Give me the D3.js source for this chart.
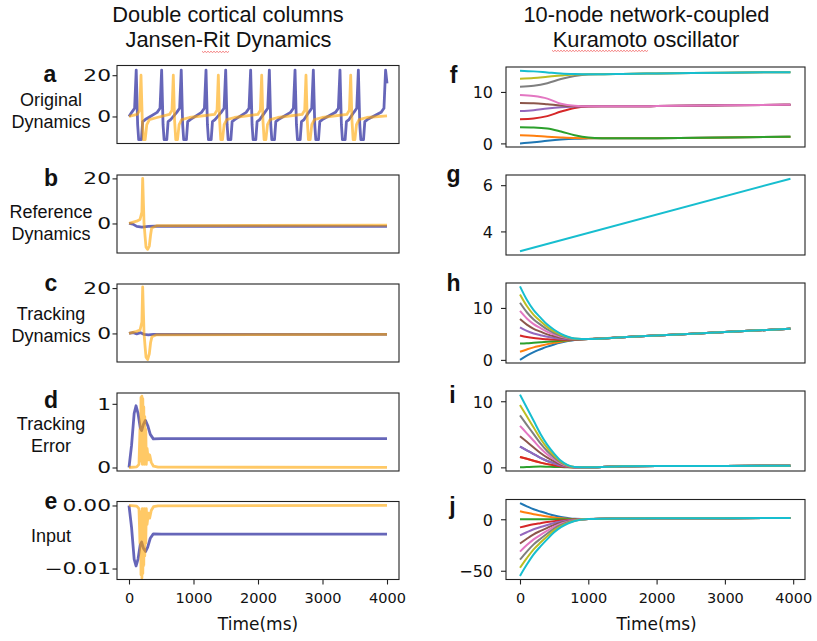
<!DOCTYPE html>
<html>
<head>
<meta charset="utf-8">
<script src="https://cdn.jsdelivr.net/npm/d3@7"></script>
<style>
  body { margin: 0; background: #fff; }
</style>
</head>
<body>
<div class="board"></div>
<script>
const W = 817, H = 641

// ---------- data ----------
const timeTicks = [0, 1000, 2000, 3000, 4000]

// Jansen-Rit, two columns, [time ms, value]
const origBlue = [
  [0, 0], [42, 2], [87, 4], [112, 22.5], [134, -4], [150, -11.2], [192, -11.2], [212, -2.5], [252, -1.5],
  [436, 2], [481, 4], [506, 22.5], [528, -4], [544, -11.2], [586, -11.2], [606, -2.5], [646, -1.5],
  [740, 2], [785, 4], [810, 22.5], [832, -4], [848, -11.2], [890, -11.2], [910, -2.5], [950, -1.5],
  [1124, 2], [1169, 4], [1194, 22.5], [1216, -4], [1232, -11.2], [1274, -11.2], [1294, -2.5], [1334, -1.5],
  [1429, 2], [1474, 4], [1499, 22.5], [1521, -4], [1537, -11.2], [1579, -11.2], [1599, -2.5], [1639, -1.5],
  [1816, 2], [1861, 4], [1886, 22.5], [1908, -4], [1924, -11.2], [1966, -11.2], [1986, -2.5], [2026, -1.5],
  [2106, 2], [2151, 4], [2176, 22.5], [2198, -4], [2214, -11.2], [2256, -11.2], [2276, -2.5], [2316, -1.5],
  [2504, 2], [2549, 4], [2574, 22.5], [2596, -4], [2612, -11.2], [2654, -11.2], [2674, -2.5], [2714, -1.5],
  [2788, 2], [2833, 4], [2858, 22.5], [2880, -4], [2896, -11.2], [2938, -11.2], [2958, -2.5], [2998, -1.5],
  [3201, 2], [3246, 4], [3271, 22.5], [3293, -4], [3309, -11.2], [3351, -11.2], [3371, -2.5], [3411, -1.5],
  [3486, 2], [3531, 4], [3556, 22.5], [3578, -4], [3594, -11.2], [3636, -11.2], [3656, -2.5], [3696, -1.5],
  [3908, 2], [3953, 4], [3978, 22.5], [4000, 16]
]
const origOrange = [
  [0, 0], [126, 1], [166, 3], [186, 20], [206, -2], [224, -11.2], [251, -11.2], [276, -4], [316, -1.5], [436, -0.5],
  [627, 1], [667, 3], [687, 20], [707, -2], [725, -11.2], [752, -11.2], [777, -4], [817, -1.5], [937, -0.5],
  [1325, 1], [1365, 3], [1385, 20], [1405, -2], [1423, -11.2], [1450, -11.2], [1475, -4], [1515, -1.5], [1635, -0.5],
  [1997, 1], [2037, 3], [2057, 20], [2077, -2], [2095, -11.2], [2122, -11.2], [2147, -4], [2187, -1.5], [2307, -0.5],
  [2684, 1], [2724, 3], [2744, 20], [2764, -2], [2782, -11.2], [2809, -11.2], [2834, -4], [2874, -1.5], [2994, -0.5],
  [3377, 1], [3417, 3], [3437, 20], [3457, -2], [3475, -11.2], [3502, -11.2], [3527, -4], [3567, -1.5], [3687, -0.5],
  [4000, 0.3]
]
const refBlue = [[0, 0], [60, -0.3], [120, -1.3], [200, -1.6], [300, -1.3], [400, -1.2], [4000, -1.3]]
const refOrange = [
  [0, 0], [119, 1], [171, 1.8], [200, 5], [212, 20], [225, 8], [233, 0], [250, -6], [264, -10.5],
  [289, -11.5], [315, -10], [335, -5], [351, -2], [429, -1], [4000, -0.7]
]
const trackBlue = [[0, 0], [60, 0.4], [120, -0.2], [180, 0.3], [230, -0.4], [300, -0.6], [380, -0.4], [4000, -0.4]]
const trackOrange = [
  [0, 0], [119, 0.9], [171, 1.5], [200, 5], [212, 20.5], [225, 8], [233, 0], [250, -6], [264, -10.5],
  [289, -11.5], [315, -9], [335, -4], [355, -1.5], [430, -0.6], [4000, -0.4]
]
const errBlue = [
  [0, 0], [40, 0.35], [80, 0.85], [109, 0.97], [140, 0.85], [175, 0.62], [196, 0.58], [225, 0.68],
  [255, 0.74], [290, 0.66], [330, 0.52], [377, 0.45], [500, 0.455], [4000, 0.455]
]
const errOrange = [
  [0, 0], [120, 0.01], [155, 0.05], [170, 0.6], [178, 0.1], [186, 1.1], [193, 0.2], [200, 1.12], [207, 0.05],
  [214, 1.08], [222, 0.1], [229, 0.95], [237, 0.05], [244, 0.8], [252, 0.08], [260, 0.6], [268, 0.05],
  [280, 0.3], [300, 0.12], [320, 0.2], [345, 0.08], [380, 0.02], [450, 0.005], [4000, 0.003]
]
const inputBlue = [
  [0, 0], [40, -0.0035], [80, -0.0085], [109, -0.0096], [140, -0.0085], [175, -0.0062], [196, -0.0058],
  [225, -0.0068], [258, -0.0073], [290, -0.0066], [330, -0.0052], [377, -0.0045], [500, -0.00455], [4000, -0.00455]
]
const inputOrange = [
  [0, 0], [120, -0.0001], [155, -0.0005], [170, -0.006], [178, -0.001], [186, -0.011], [193, -0.002],
  [200, -0.0115], [207, -0.0005], [214, -0.0108], [222, -0.001], [229, -0.0095], [237, -0.0005],
  [244, -0.008], [252, -0.0008], [260, -0.006], [268, -0.0005], [280, -0.003], [300, -0.0012],
  [320, -0.002], [345, -0.0008], [380, -0.0002], [450, -0.00005], [4000, 0]
]

// Kuramoto, 10 nodes (tab10 order)
const nodeColors = ["#1f77b4", "#ff7f0e", "#2ca02c", "#d62728", "#9467bd",
                    "#8c564b", "#e377c2", "#7f7f7f", "#bcbd22", "#17becf"]

const fTimes = [0, 200, 400, 600, 800, 1000, 1200, 1500, 2000, 3000, 3960]
const fLines = [
  [0, 0.2, 0.5, 0.75, 0.92, 0.98, 1.0, 1.0, 1.02, 1.15, 1.3],
  [1.57, 1.5, 1.3, 1.15, 1.03, 0.99, 1.0, 1.0, 1.02, 1.15, 1.3],
  [3.14, 3.1, 2.9, 2.3, 1.6, 1.15, 1.02, 1.0, 1.02, 1.15, 1.3],
  [4.71, 4.85, 5.3, 6.2, 6.9, 7.15, 7.2, 7.2, 7.25, 7.4, 7.5],
  [6.28, 6.45, 6.8, 7.05, 7.15, 7.2, 7.2, 7.2, 7.25, 7.4, 7.5],
  [7.85, 7.8, 7.6, 7.35, 7.22, 7.2, 7.2, 7.2, 7.25, 7.4, 7.5],
  [9.42, 9.2, 8.7, 7.7, 7.3, 7.2, 7.2, 7.2, 7.25, 7.4, 7.5],
  [10.99, 11.2, 11.7, 12.5, 13.1, 13.4, 13.45, 13.5, 13.6, 13.75, 13.85],
  [12.57, 12.7, 12.95, 13.2, 13.4, 13.45, 13.45, 13.5, 13.6, 13.75, 13.85],
  [14.14, 14.0, 13.8, 13.6, 13.5, 13.45, 13.45, 13.5, 13.6, 13.75, 13.85]
]

const gTimes = [0, 3960]
const gLine = [3.14, 6.28]

const hTimes = [0, 100, 200, 300, 400, 500, 600, 700, 800, 1000, 1500, 2000, 3000, 3960]
const hLines = [
  [0, 0.81, 1.51, 2.05, 2.56, 2.97, 3.32, 3.61, 3.84, 4.0, 4.35, 4.7, 5.35, 6.0],
  [1.57, 2.01, 2.41, 2.72, 3.03, 3.29, 3.51, 3.71, 3.88, 4.0, 4.35, 4.7, 5.35, 6.0],
  [3.14, 3.2, 3.3, 3.4, 3.5, 3.6, 3.7, 3.8, 3.9, 4.0, 4.35, 4.7, 5.35, 6.0],
  [4.71, 4.39, 4.19, 4.08, 3.97, 3.91, 3.89, 3.89, 3.93, 4.0, 4.35, 4.7, 5.35, 6.0],
  [6.28, 5.59, 5.09, 4.75, 4.44, 4.23, 4.08, 3.99, 3.96, 4.0, 4.35, 4.7, 5.35, 6.0],
  [7.85, 6.78, 5.98, 5.43, 4.91, 4.54, 4.27, 4.08, 3.99, 4.0, 4.35, 4.7, 5.35, 6.0],
  [9.42, 7.97, 6.88, 6.10, 5.38, 4.86, 4.45, 4.18, 4.03, 4.0, 4.35, 4.7, 5.35, 6.0],
  [10.99, 9.17, 7.77, 6.78, 5.86, 5.17, 4.64, 4.27, 4.06, 4.0, 4.35, 4.7, 5.35, 6.0],
  [12.57, 10.36, 8.67, 7.45, 6.33, 5.48, 4.83, 4.37, 4.09, 4.0, 4.35, 4.7, 5.35, 6.0],
  [14.14, 11.56, 9.57, 8.13, 6.8, 5.8, 5.02, 4.46, 4.12, 4.0, 4.35, 4.7, 5.35, 6.0]
]

const iTimes = [0, 100, 200, 300, 400, 500, 600, 700, 800, 1000, 1500, 2000, 3000, 3960]
const iLines = [
  [3.14, 2.57, 2.01, 1.44, 0.97, 0.60, 0.28, 0.09, 0.02, 0, 0.15, 0.2, 0.22, 0.25],
  [1.57, 1.29, 1.0, 0.72, 0.49, 0.30, 0.14, 0.05, 0.01, 0, 0.15, 0.2, 0.22, 0.25],
  [0, 0.05, 0.1, 0.12, 0.1, 0.07, 0.04, 0.02, 0, 0, 0.15, 0.2, 0.22, 0.25],
  [1.57, 1.29, 1.0, 0.72, 0.49, 0.30, 0.14, 0.05, 0.01, 0, 0.15, 0.2, 0.22, 0.25],
  [3.14, 2.57, 2.01, 1.44, 0.97, 0.60, 0.28, 0.09, 0.02, 0, 0.15, 0.2, 0.22, 0.25],
  [4.71, 3.86, 3.01, 2.17, 1.46, 0.89, 0.42, 0.14, 0.02, 0, 0.15, 0.2, 0.22, 0.25],
  [6.28, 5.15, 4.02, 2.89, 1.95, 1.19, 0.57, 0.19, 0.03, 0, 0.15, 0.2, 0.22, 0.25],
  [7.85, 6.44, 5.02, 3.61, 2.43, 1.49, 0.71, 0.24, 0.04, 0, 0.15, 0.2, 0.22, 0.25],
  [9.42, 7.72, 6.03, 4.33, 2.92, 1.79, 0.85, 0.28, 0.05, 0, 0.15, 0.2, 0.22, 0.25],
  [11.0, 9.02, 7.04, 5.06, 3.41, 2.09, 0.99, 0.33, 0.06, 0, 0.15, 0.2, 0.22, 0.25]
]

const jTimes = [0, 100, 200, 300, 400, 500, 600, 700, 800, 1000, 1500, 2000, 3000, 3960]
const jLines = [
  [15.7, 12.6, 9.7, 7.5, 5.5, 3.6, 2.2, 1.2, 0.5, 0.2, 0.8, 1.0, 1.1, 1.2],
  [7.85, 6.3, 4.9, 3.8, 2.7, 1.8, 1.1, 0.6, 0.3, 0.2, 0.8, 1.0, 1.1, 1.2],
  [0, 0, 0, 0.1, 0.1, 0.1, 0.1, 0.1, 0.1, 0.2, 0.8, 1.0, 1.1, 1.2],
  [-7.85, -6.3, -4.9, -3.8, -2.7, -1.8, -1.1, -0.6, -0.2, 0.2, 0.8, 1.0, 1.1, 1.2],
  [-15.7, -12.6, -9.7, -7.5, -5.5, -3.6, -2.2, -1.2, -0.5, 0.2, 0.8, 1.0, 1.1, 1.2],
  [-23.6, -18.9, -14.6, -11.3, -8.3, -5.4, -3.3, -1.8, -0.7, 0.2, 0.8, 1.0, 1.1, 1.2],
  [-31.4, -25.1, -19.5, -15.1, -11.0, -7.2, -4.4, -2.4, -0.9, 0.2, 0.8, 1.0, 1.1, 1.2],
  [-39.3, -31.4, -24.4, -18.9, -13.8, -9.0, -5.5, -2.9, -1.2, 0.2, 0.8, 1.0, 1.1, 1.2],
  [-47.1, -37.7, -29.2, -22.6, -16.5, -10.8, -6.6, -3.5, -1.4, 0.2, 0.8, 1.0, 1.1, 1.2],
  [-55, -44, -34.1, -26.4, -19.3, -12.7, -7.7, -4.1, -1.7, 0.2, 0.8, 1.0, 1.1, 1.2]
]

// ---------- drawing ----------
const BLUE = "#00008b", ORANGE = "#ffa500"
const TICK_FONT = "DejaVu Sans, sans-serif"
const TEXT_FONT = "Liberation Sans, Arial, sans-serif"

const svg = d3.select(".board")
  .append("svg")
  .attr("width", W)
  .attr("height", H)
  .style("background", "#fff")

let clipId = 0

function drawPanel(p) {
  let x = d3.scaleLinear().domain(p.xDomain).range([p.left, p.right])
  let y = d3.scaleLinear().domain(p.yDomain).range([p.top + p.height, p.top])

  let id = "clip" + (clipId++)
  svg.append("clipPath").attr("id", id)
    .append("rect")
    .attr("x", p.left).attr("y", p.top)
    .attr("width", p.right - p.left).attr("height", p.height)

  let lines = svg.append("g").attr("clip-path", `url(#${id})`)
  p.series.forEach(s => {
    lines.append("path")
      .datum(s.pts)
      .attr("fill", "none")
      .attr("stroke", s.color)
      .attr("stroke-width", s.width)
      .attr("stroke-opacity", s.opacity)
      .attr("stroke-linejoin", "round")
      .attr("d", d3.line()
        .x(d => x(d[0]))
        .y(d => y(d[1]))
        .curve(s.curve || d3.curveLinear))
  })

  // frame
  svg.append("rect")
    .attr("x", p.left).attr("y", p.top)
    .attr("width", p.right - p.left).attr("height", p.height)
    .attr("fill", "none").attr("stroke", "#222").attr("stroke-width", 1.1)

  let ya = svg.append("g")
    .attr("transform", `translate(${p.left},0)`)
    .call(d3.axisLeft(y).tickValues(p.yTicks).tickSize(p.tickLen).tickFormat(p.fmt))
  ya.select(".domain").remove()
  ya.selectAll("line").attr("stroke", "#222").attr("stroke-width", 1.1)
  ya.selectAll("text")
    .attr("font-family", TICK_FONT)
    .attr("font-size", p.yFont)
    .attr("fill", "#111")
    .attr("transform", `scale(${p.yStretch},1)`)
    .attr("x", -(p.tickLen + p.yPad) / p.yStretch)
    .attr("dy", "0.36em")

  if (p.showX) {
    let xa = svg.append("g")
      .attr("transform", `translate(0,${p.top + p.height})`)
      .call(d3.axisBottom(x).tickValues(timeTicks).tickSize(5).tickFormat(d3.format("d")))
    xa.select(".domain").remove()
    xa.selectAll("line").attr("stroke", "#222").attr("stroke-width", 1.1)
    xa.selectAll("text")
      .attr("font-family", TICK_FONT)
      .attr("font-size", 14.5)
      .attr("fill", "#111")
      .attr("y", 13)
      .attr("dy", "0.72em")
    svg.append("text")
      .attr("x", (x(0) + x(4000)) / 2)
      .attr("y", 630)
      .attr("text-anchor", "middle")
      .attr("font-family", TICK_FONT)
      .attr("font-size", 17)
      .attr("fill", "#111")
      .text("Time(ms)")
  }
}

const minusFmt = f => d => d3.format(f)(d).replace("-", "\u2212")

// left column: Jansen-Rit
const leftX = [117, 399]
const leftTops = [65.5, 175, 284, 393, 501.5]
const leftPanels = [
  { yDomain: [-13.1, 24.7], yTicks: [0, 20], fmt: minusFmt("d"), blue: origBlue, orange: origOrange },
  { yDomain: [-13.1, 21.5], yTicks: [0, 20], fmt: minusFmt("d"), blue: refBlue, orange: refOrange },
  { yDomain: [-12.6, 21.8], yTicks: [0, 20], fmt: minusFmt("d"), blue: trackBlue, orange: trackOrange },
  { yDomain: [-0.055, 1.17], yTicks: [0, 1], fmt: minusFmt("d"), blue: errBlue, orange: errOrange },
  { yDomain: [-0.01174, 0.00063], yTicks: [-0.01, 0], fmt: minusFmt(".2f"), blue: inputBlue, orange: inputOrange }
]
leftPanels.forEach((lp, i) => {
  drawPanel({
    left: leftX[0], right: leftX[1], top: leftTops[i], height: 78,
    xDomain: [-186, 4186], yDomain: lp.yDomain, yTicks: lp.yTicks, fmt: lp.fmt,
    tickLen: 4.5, yPad: 1.5, yFont: 15, yStretch: 1.45,
    showX: i === 4,
    series: [
      { pts: lp.blue, color: BLUE, width: 2.8, opacity: 0.6 },
      { pts: lp.orange, color: ORANGE, width: 2.8, opacity: 0.6 }
    ]
  })
})

// right column: Kuramoto
const rightX = [506, 805]
const rightTops = [67, 175, 283, 391, 499.5]
const nodeSeries = (times, rows) => rows.map((vals, k) => ({
  pts: times.map((t, j) => [t, vals[j]]),
  color: nodeColors[k], width: 2, opacity: 1, curve: d3.curveMonotoneX
}))
const rightPanels = [
  { yDomain: [-0.7, 14.85], yTicks: [0, 10], fmt: minusFmt("d"), series: nodeSeries(fTimes, fLines) },
  { yDomain: [2.98, 6.44], yTicks: [4, 6], fmt: minusFmt("d"),
    series: [{ pts: gTimes.map((t, j) => [t, gLine[j]]), color: nodeColors[9], width: 2, opacity: 1 }] },
  { yDomain: [-0.6, 14.8], yTicks: [0, 10], fmt: minusFmt("d"), series: nodeSeries(hTimes, hLines) },
  { yDomain: [-0.55, 11.55], yTicks: [0, 10], fmt: minusFmt("d"), series: nodeSeries(iTimes, iLines) },
  { yDomain: [-58.5, 19.2], yTicks: [-50, 0], fmt: minusFmt("d"), series: nodeSeries(jTimes, jLines) }
]
rightPanels.forEach((rp, i) => {
  drawPanel({
    left: rightX[0], right: rightX[1], top: rightTops[i], height: 80,
    xDomain: [-205, 4173], yDomain: rp.yDomain, yTicks: rp.yTicks, fmt: rp.fmt,
    tickLen: 5, yPad: 8, yFont: 16, yStretch: 1,
    showX: i === 4,
    series: rp.series
  })
})

// ---------- titles and labels ----------
function addText(str, x, y, size, weight) {
  svg.append("text")
    .attr("x", x).attr("y", y)
    .attr("text-anchor", "middle")
    .attr("font-family", TEXT_FONT)
    .attr("font-size", size)
    .attr("font-weight", weight || "normal")
    .attr("fill", "#111")
    .text(str)
}

addText("Double cortical columns", 228, 21.7, 21.8)
addText("Jansen-Rit Dynamics", 228.5, 46.7, 21.8)
addText("10-node network-coupled", 646.5, 21.7, 21.8)
addText("Kuramoto oscillator", 646, 46.7, 21.8)

// spell-check squiggles under "Rit" and "Kuramoto"
function squiggle(x0, x1, y) {
  let pts = d3.range(x0, x1 + 0.1, 1.5).map((xx, k) => [xx, y + (k % 2 ? 1 : -0.2)])
  svg.append("path")
    .attr("d", d3.line()(pts))
    .attr("fill", "none")
    .attr("stroke", "#f06060")
    .attr("stroke-width", 0.8)
}
squiggle(202, 230, 51.5)
squiggle(552, 648, 50.5)

const rowLabels = [
  [["Original", 106], ["Dynamics", 128]],
  [["Reference", 218], ["Dynamics", 240]],
  [["Tracking", 320], ["Dynamics", 342]],
  [["Tracking", 430], ["Error", 452]],
  [["Input", 542]]
]
rowLabels.forEach(rows => rows.forEach(r => addText(r[0], 51, r[1], 18)))

const panelLetters = [
  ["a", 50, 81.5], ["b", 51, 186], ["c", 51, 291], ["d", 51, 408], ["e", 51, 509],
  ["f", 453.5, 83], ["g", 453.5, 182], ["h", 453.5, 291], ["i", 452.5, 403], ["j", 452.5, 514]
]
panelLetters.forEach(l => addText(l[0], l[1], l[2], 23, "bold"))
</script>
</body>
</html>
